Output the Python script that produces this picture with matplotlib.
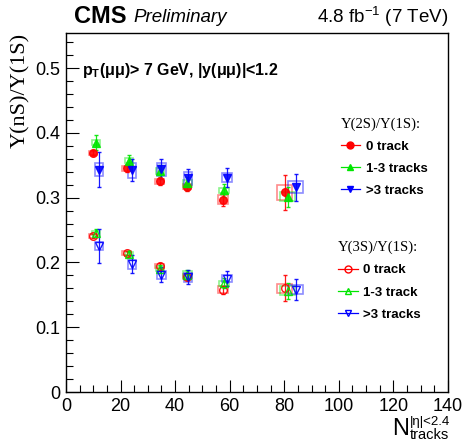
"""Upsilon(nS)/Upsilon(1S) ratios vs track multiplicity (CMS style)."""

import matplotlib

matplotlib.use("Agg")
import matplotlib.pyplot as plt
from matplotlib.lines import Line2D
from matplotlib.patches import Rectangle
from matplotlib.ticker import MultipleLocator

plt.rcParams["font.family"] = ["Liberation Sans", "DejaVu Sans"]
plt.rcParams["mathtext.fontset"] = "custom"
plt.rcParams["mathtext.rm"] = "Liberation Sans"
plt.rcParams["mathtext.it"] = "Liberation Sans:italic"
plt.rcParams["mathtext.bf"] = "Liberation Sans:bold"

# --- data ------------------------------------------------------------------
categories = ["0 track", "1-3 tracks", ">3 tracks"]
labels_3s = ["0 track", "1-3 track", ">3 tracks"]

# mean N_tracks of each point, per track-category
ntrk = {
    "0 track": [10.0, 22.2, 34.3, 44.3, 57.4, 80.2],
    "1-3 tracks": [11.1, 23.0, 34.6, 44.5, 57.8, 81.3],
    ">3 tracks": [12.2, 24.1, 35.0, 44.7, 58.9, 84.2],
}

ratio_2s = {
    "0 track": [0.369, 0.345, 0.325, 0.317, 0.297, 0.308],
    "1-3 tracks": [0.385, 0.357, 0.341, 0.322, 0.311, 0.301],
    ">3 tracks": [0.343, 0.342, 0.344, 0.330, 0.331, 0.316],
}
stat_2s = {
    "0 track": [0.004, 0.005, 0.006, 0.007, 0.010, 0.027],
    "1-3 tracks": [0.012, 0.009, 0.009, 0.010, 0.010, 0.015],
    ">3 tracks": [0.027, 0.017, 0.016, 0.014, 0.014, 0.021],
}
syst_2s = {
    "0 track": [0.003, 0.004, 0.004, 0.004, 0.007, 0.011],
    "1-3 tracks": [0.004, 0.004, 0.005, 0.005, 0.004, 0.007],
    ">3 tracks": [0.010, 0.011, 0.010, 0.010, 0.007, 0.009],
}

ratio_3s = {
    "0 track": [0.241, 0.214, 0.195, 0.178, 0.158, 0.160],
    "1-3 tracks": [0.246, 0.213, 0.190, 0.181, 0.168, 0.156],
    ">3 tracks": [0.225, 0.197, 0.181, 0.177, 0.175, 0.158],
}
stat_3s = {
    "0 track": [0.003, 0.003, 0.004, 0.005, 0.006, 0.020],
    "1-3 tracks": [0.006, 0.005, 0.006, 0.007, 0.008, 0.012],
    ">3 tracks": [0.026, 0.014, 0.012, 0.011, 0.012, 0.016],
}
syst_3s = {
    "0 track": [0.003, 0.003, 0.003, 0.004, 0.005, 0.007],
    "1-3 tracks": [0.003, 0.003, 0.004, 0.005, 0.004, 0.007],
    ">3 tracks": [0.006, 0.007, 0.006, 0.007, 0.006, 0.007],
}

# half-widths of the systematic boxes (in N_tracks)
box_halfwidth = [1.5, 1.5, 1.5, 1.5, 1.8, 2.7]

colors = {"0 track": "#ff0000", "1-3 tracks": "#00e600", ">3 tracks": "#0000ff"}
markers = {"0 track": "o", "1-3 tracks": "^", ">3 tracks": "v"}


def draw_series(ax, x, y, stat, syst, color, marker, filled):
    for xi, yi, si, hw in zip(x, y, syst, box_halfwidth):
        ax.add_patch(Rectangle((xi - hw, yi - si), 2 * hw, 2 * si,
                               fill=False, edgecolor=color, alpha=0.45, lw=1.2))
    ax.errorbar(x, y, yerr=stat, fmt=marker, color=color, ms=5.5,
                mfc=color if filled else "none", mec=color, mew=1.0,
                elinewidth=0.9, capsize=1.5, capthick=0.8, alpha=0.9)


fig = plt.figure(figsize=(4.67, 4.42), dpi=100)
ax = fig.add_axes([0.1413, 0.1131, 0.818, 0.8122])

for cat in categories:
    draw_series(ax, ntrk[cat], ratio_2s[cat], stat_2s[cat], syst_2s[cat],
                colors[cat], markers[cat], True)
    draw_series(ax, ntrk[cat], ratio_3s[cat], stat_3s[cat], syst_3s[cat],
                colors[cat], markers[cat], False)

ax.set_xlim(0, 140)
ax.set_ylim(0, 0.554)
ax.xaxis.set_major_locator(MultipleLocator(20))
ax.xaxis.set_minor_locator(MultipleLocator(5))
ax.yaxis.set_major_locator(MultipleLocator(0.1))
ax.yaxis.set_minor_locator(MultipleLocator(0.02))
ax.tick_params(which="both", direction="in", top=False, right=False,
               labelsize=13, pad=4)
ax.tick_params(which="major", length=9, width=0.8)
ax.tick_params(which="minor", length=5, width=0.8)
ax.set_yticks([0, 0.1, 0.2, 0.3, 0.4, 0.5])
ax.set_yticklabels(["0", "0.1", "0.2", "0.3", "0.4", "0.5"])
for s in ax.spines.values():
    s.set_linewidth(1.0)

# x-axis title built from three pieces (ROOT style N^{|eta|<2.4}_{tracks})
fig.text(0.876, 0.004, "N", fontsize=17, ha="right", va="bottom")
fig.text(0.878, 0.058, "|η|<2.4", fontsize=9.5, ha="left", va="top")
fig.text(0.878, 0.0, "tracks", fontsize=10.5, ha="left", va="bottom")

ax.set_ylabel("Υ(nS)/Υ(1S)", fontsize=16, ha="right", y=1.0,
              labelpad=4, family=["Liberation Serif", "DejaVu Serif"])

fig.text(0.158, 0.963, "CMS", fontsize=17, fontweight="bold", va="center")
fig.text(0.285, 0.961, "Preliminary", fontsize=13.5, style="italic",
         va="center")
fig.text(0.959, 0.961, r"4.8 fb$^{-1}$ (7 TeV)", fontsize=13.5,
         ha="right", va="center")
ax.text(0.042, 0.895, r"p$_{\mathbf{T}}$(μμ)> 7 GeV, |y(μμ)|<1.2",
        transform=ax.transAxes, fontsize=11.5, fontweight="bold",
        va="center")


def make_handles(filled):
    handles = []
    for cat in categories:
        handles.append(Line2D([], [], color=colors[cat], marker=markers[cat],
                              ms=5, lw=0.9,
                              mfc=colors[cat] if filled else "none",
                              mec=colors[cat]))
    return handles


leg_kw = dict(frameon=False, handlelength=1.5, handletextpad=0.4,
              labelspacing=0.75, borderpad=0,
              prop={"weight": "bold", "size": 9.5},
              title_fontproperties={"family": "Liberation Serif", "size": 10.5},
              alignment="left")
leg1 = ax.legend(make_handles(True), categories,
                 title="Υ(2S)/Υ(1S):", loc="upper left",
                 bbox_to_anchor=(0.715, 0.75), bbox_transform=fig.transFigure,
                 **leg_kw)
ax.add_artist(leg1)
ax.legend(make_handles(False), labels_3s,
          title="Υ(3S)/Υ(1S):", loc="upper left",
          bbox_to_anchor=(0.71, 0.47), bbox_transform=fig.transFigure,
          **leg_kw)

fig.savefig("out.png", dpi=100)
